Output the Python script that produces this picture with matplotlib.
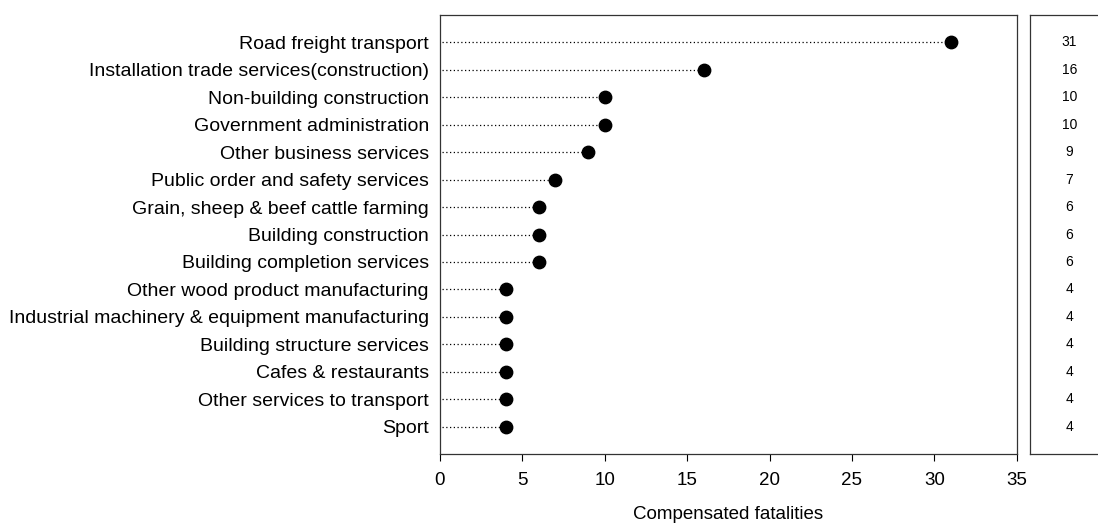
import matplotlib.pyplot as plt

plt.rcParams['font.family'] = ['Liberation Sans', 'DejaVu Sans']

industries = ['Road freight transport',
              'Installation trade services(construction)',
              'Non-building construction',
              'Government administration',
              'Other business services',
              'Public order and safety services',
              'Grain, sheep & beef cattle farming',
              'Building construction',
              'Building completion services',
              'Other wood product manufacturing',
              'Industrial machinery & equipment manufacturing',
              'Building structure services',
              'Cafes & restaurants',
              'Other services to transport',
              'Sport']
fatalities = [31, 16, 10, 10, 9, 7, 6, 6, 6, 4, 4, 4, 4, 4, 4]
x_ticks = [0, 5, 10, 15, 20, 25, 30, 35]

n = len(industries)
ypos = [n - i for i in range(n)]

fig = plt.figure(figsize=(10.98, 5.27), dpi=100)
ax = fig.add_axes([0.4007, 0.1385, 0.5253, 0.833])
for y, v in zip(ypos, fatalities):
    ax.plot([0.15, v], [y, y], color='black', lw=0.9, linestyle=(0, (1, 2)))
ax.scatter(fatalities, ypos, s=80, color='black', zorder=3)
ax.set_xlim(0, 35)
ax.set_ylim(0, n + 1)
ax.set_xticks(x_ticks)
ax.set_xticklabels([str(t) for t in x_ticks], fontsize=13.5)
ax.set_yticks(ypos)
ax.set_yticklabels(industries, fontsize=14)
ax.tick_params(axis='y', length=0, pad=8)
ax.tick_params(axis='x', length=5, direction='out', pad=8)
ax.set_xlabel('Compensated fatalities', fontsize=13.5, labelpad=12)
for s in ax.spines.values():
    s.set_linewidth(0.9)
    s.set_color('#333333')

ax2 = fig.add_axes([0.938, 0.1385, 0.08, 0.833])
ax2.set_ylim(0, n + 1)
ax2.set_xlim(0, 1)
for y, v in zip(ypos, fatalities):
    ax2.text(0.45, y, str(v), ha='center', va='center', fontsize=10)
ax2.set_xticks([])
ax2.set_yticks([])
ax2.spines['right'].set_visible(False)
for s in ax2.spines.values():
    s.set_linewidth(0.9)
    s.set_color('#333333')

fig.savefig('out.png', dpi=100)
